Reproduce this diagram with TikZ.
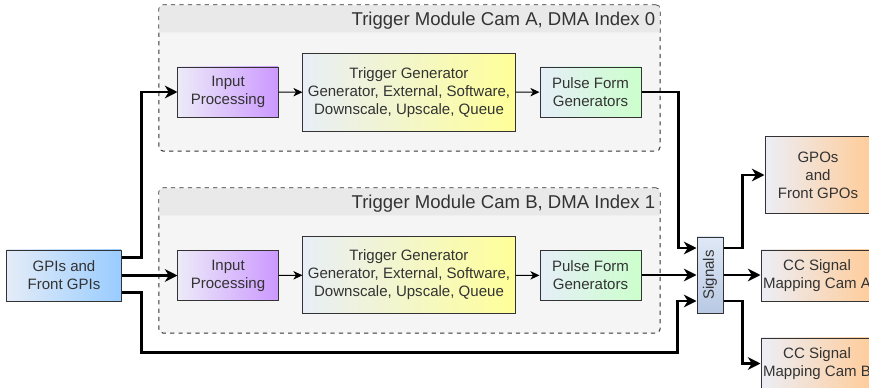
\documentclass[tikz,border=0pt]{standalone}
\usepackage{fontspec}
\setmainfont{Liberation Sans}
\usetikzlibrary{calc,arrows.meta}
\definecolor{edge}{HTML}{333333}
\definecolor{groupfill}{HTML}{F5F5F5}
\definecolor{headfill}{HTML}{E9E9E9}
\definecolor{gpiL}{HTML}{E4ECF8}
\definecolor{gpiR}{HTML}{99CCFF}
\definecolor{inL}{HTML}{ECEAF8}
\definecolor{inR}{HTML}{CC99FF}
\definecolor{tgL}{HTML}{E8EEF6}
\definecolor{tgR}{HTML}{FFFF99}
\definecolor{pfL}{HTML}{E6EEF8}
\definecolor{pfR}{HTML}{CCFFCC}
\definecolor{outL}{HTML}{ECEEF6}
\definecolor{outR}{HTML}{FFCC99}
\definecolor{sigT}{HTML}{DFE8F6}
\definecolor{sigB}{HTML}{B9C9E4}
\tikzset{
	box/.style={draw=edge, line width=0.7pt, align=center, inner sep=0pt, text=edge, font=\fontsize{10.7}{12.8}\selectfont},
	inbox/.style={box, minimum width=2.5cm, minimum height=1.25cm, left color=inL, right color=inR},
	genbox/.style={box, minimum width=5.3cm, minimum height=1.925cm, left color=tgL, right color=tgR},
	pulsebox/.style={box, minimum width=2.525cm, minimum height=1.25cm, left color=pfL, right color=pfR},
	outbox/.style={box, minimum height=1.275cm, left color=outL, right color=outR},
	group/.style={draw=edge, line width=0.7pt, dashed, rounded corners=2.8pt, fill=groupfill, minimum width=12.525cm, inner sep=0pt},
	grouptitle/.style={anchor=east, inner sep=0pt, text=edge, font=\fontsize{13.2}{15.8}\selectfont},
	bus/.style={line width=2.1pt, line join=miter, -{Stealth[length=9pt, width=9pt, inset=2.8pt]}},
	link/.style={line width=0.7pt, -{Stealth[length=6.5pt, width=6pt, inset=1.9pt]}}
}

\begin{document}
\begin{tikzpicture}[x=0.025cm, y=-0.025cm]
			%%%%% START %%%%%
			
			\clip (0,0) rectangle (869,388);
			
			\node[group, minimum height=3.65cm] (modA) at (409.5,78) {};
			\fill[headfill] ($(modA.north west)+(1,28)$) {[rounded corners=2.2pt] -- ($(modA.north west)+(1,1)$) -- ($(modA.north east)+(-1,1)$)} -- ($(modA.north east)+(-1,28)$) -- cycle;
			\node[grouptitle] (titA) at ($(modA.north east)+(-5,16)$) {Trigger Module Cam A, DMA Index 0};
			
			\node[group, minimum height=3.625cm] (modB) at (409.5,260.5) {};
			\fill[headfill] ($(modB.north west)+(1,28)$) {[rounded corners=2.2pt] -- ($(modB.north west)+(1,1)$) -- ($(modB.north east)+(-1,1)$)} -- ($(modB.north east)+(-1,28)$) -- cycle;
			\node[grouptitle] (titB) at ($(modB.north east)+(-5,16)$) {Trigger Module Cam B, DMA Index 1};
			
			\node[box, minimum width=2.85cm, minimum height=1.275cm, left color=gpiL, right color=gpiR] (gpi) at (64,275.5) {GPIs and\\Front GPIs};
			
			\node[inbox] (inA) at (228,92) {Input\\Processing};
			\node[genbox] (genA) at (409,92.5) {Trigger Generator\\Generator, External, Software,\\Downscale, Upscale, Queue};
			\node[pulsebox] (pulseA) at (590.5,92) {Pulse Form\\Generators};
			
			\node[inbox] (inB) at (228,275.5) {Input\\Processing};
			\node[genbox] (genB) at (409,275) {Trigger Generator\\Generator, External, Software,\\Downscale, Upscale, Queue};
			\node[pulsebox] (pulseB) at (590.5,275.5) {Pulse Form\\Generators};
			
			% rotated: sig.north is the left side, sig.south the right side
			\node[box, minimum width=1.9cm, minimum height=0.65cm, top color=sigT, bottom color=sigB, rotate=90] (sig) at (710,275) {Signals};
			
			\node[outbox, minimum width=2.65cm, minimum height=1.9cm] (gpo) at (818,175) {GPOs\\and\\Front GPOs};
			\node[outbox, minimum width=2.8cm] (ccA) at (817,275.5) {CC Signal\\Mapping Cam A};
			\node[outbox, minimum width=2.8cm] (ccB) at (817,363.5) {CC Signal\\Mapping Cam B};
			
			\draw[link] (inA) -- (genA);
			\draw[link] (genA) -- (pulseA);
			\draw[link] (inB) -- (genB);
			\draw[link] (genB) -- (pulseB);
			
			\draw[bus] ($(gpi.east)+(0,-18)$) -- ++(20,0) |- (inA.west);
			\draw[bus] (gpi.east |- inB.west) -- (inB.west);
			\draw[bus] ($(gpi.east)+(0,17)$) -- ++(20,0) -- ++(0,60) -| ($(sig.north)+(-19,26)$) -- ($(sig.north)+(0,26)$);
			
			\draw[bus] (pulseA.east) -- ++(37,0) |- ($(sig.north)+(0,-27)$);
			\draw[bus] (pulseB.east |- sig.north) -- (sig.north);
			
			\draw[bus] ($(sig.south)+(0,-27)$) -- ++(19,0) |- (gpo.west);
			\draw[bus] (sig.south) -- (ccA.west |- sig.south);
			\draw[bus] ($(sig.south)+(0,26)$) -- ++(19,0) |- (ccB.west);
			
			%%%%% END %%%%%
		\end{tikzpicture}
\end{document}
